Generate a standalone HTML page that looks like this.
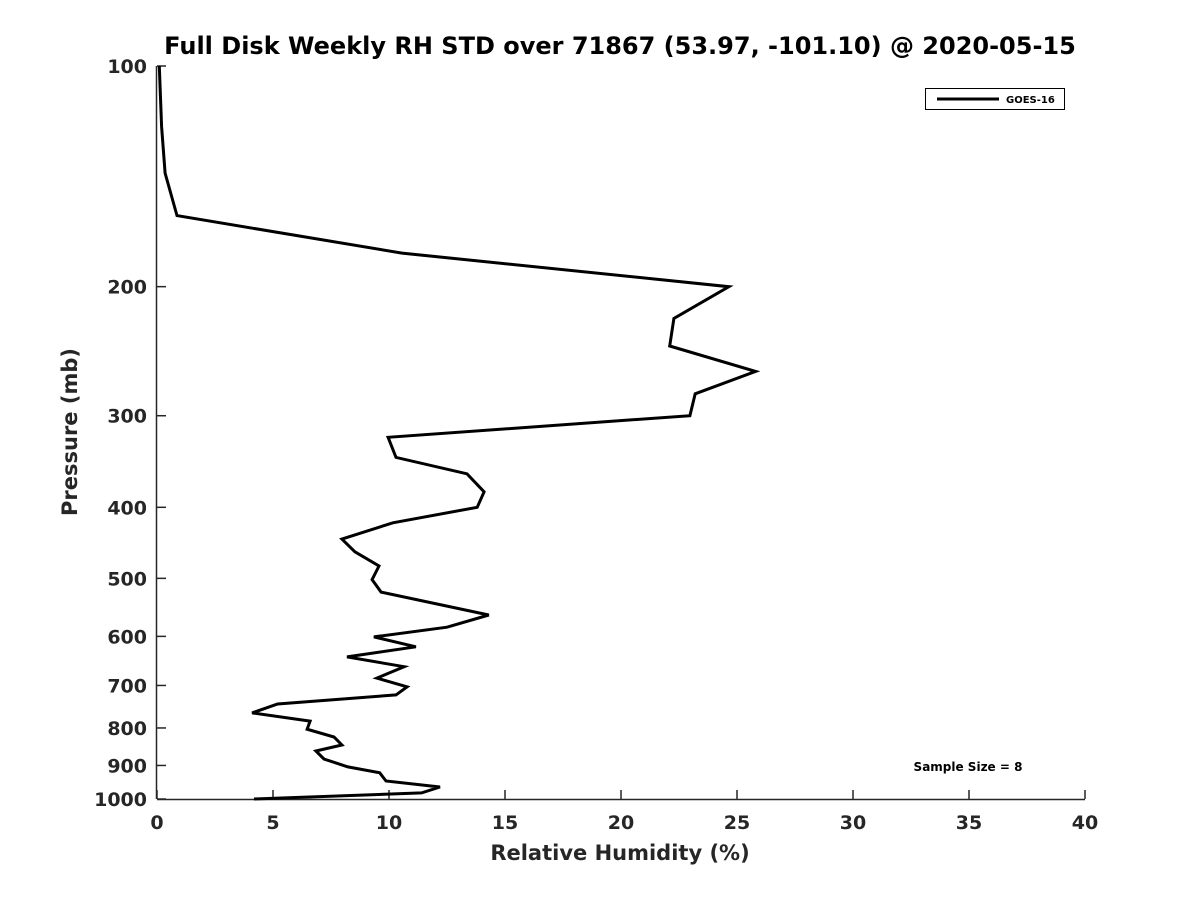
<!DOCTYPE html>
<html><head><meta charset="utf-8"><style>
html,body{margin:0;padding:0;background:#fff;}
svg{display:block;font-family:"DejaVu Sans","Liberation Sans",sans-serif;font-weight:bold;}
</style></head><body>
<svg id="chart" width="1200" height="900" xmlns="http://www.w3.org/2000/svg">
<text x="620" y="54" text-anchor="middle" font-size="24" fill="#000">Full Disk Weekly RH STD over 71867 (53.97, -101.10) @ 2020-05-15</text>
<g id="axes"></g>
<path id="line" fill="none" stroke="#000" stroke-width="3" stroke-linejoin="miter"></path>
<text x="620" y="860" text-anchor="middle" font-size="21" fill="#262626">Relative Humidity (%)</text>
<text transform="translate(77,432) rotate(-90)" text-anchor="middle" font-size="21" fill="#262626">Pressure (mb)</text>
<g>
<rect x="925.5" y="88.5" width="139" height="21" fill="#fff" stroke="#000" stroke-width="1"></rect>
<line x1="937" y1="99" x2="999" y2="99" stroke="#000" stroke-width="3"></line>
<text x="1006" y="103" font-size="10" fill="#000">GOES-16</text>
</g>
<text x="968" y="771" text-anchor="middle" font-size="12" fill="#000">Sample Size = 8</text>
</svg>
<script>
const rhValues=[0.1,0.2,0.35,0.86,10.56,24.65,22.28,22.1,25.8,23.2,22.97,9.96,10.3,13.36,14.1,13.8,10.17,7.97,8.53,9.57,9.27,9.66,14.3,12.5,9.35,11.16,8.19,10.65,9.48,10.78,10.3,5.2,4.1,6.6,6.47,7.63,7.97,6.85,7.2,8.23,9.6,9.87,12.2,11.4,4.18];
const pressures=[100,121,140,160,180,200,221,241,261,280,300,321,342,360,381,400,420,442,460,481,502,522,561,583,601,620,640,660,684,703,721,742,763,783,803,823,844,860,882,904,921,945,963,981,1000];
const xTicks=[0,5,10,15,20,25,30,35,40];
const yTicks=[100,200,300,400,500,600,700,800,900,1000];
const X0=157,X1=1085,Y0=66,Y1=799;
const xs=v=>X0+(v-0)/(40-0)*(X1-X0);
const ys=p=>Y0+(Math.log10(p)-2)/(3-2)*(Y1-Y0);
const NS="http://www.w3.org/2000/svg";
const ax=document.getElementById('axes');
function mk(t,a){const e=document.createElementNS(NS,t);for(const k in a)e.setAttribute(k,a[k]);return e;}
const xl=mk('line',{x1:X0,y1:Y1+0.5,x2:X1,y2:Y1+0.5,stroke:'#262626','stroke-width':1.5});


ax.appendChild(xl);
const yl=mk('line',{x1:X0-0.5,y1:Y0,x2:X0-0.5,y2:Y1,stroke:'#262626','stroke-width':1.5});


ax.appendChild(yl);
xTicks.forEach(v=>{
 const x=xs(v);
 const t=mk('line',{x1:x,y1:Y1,x2:x,y2:Y1-9,stroke:'#262626','stroke-width':1.5});
 
 
 ax.appendChild(t);
 const l=mk('text',{x:x,y:Y1+30,'text-anchor':'middle','font-size':19,fill:'#262626'});
 l.textContent=v;
 
 
 ax.appendChild(l);
});
yTicks.forEach(p=>{
 const y=ys(p);
 const t=mk('line',{x1:X0,y1:y,x2:X0+9,y2:y,stroke:'#262626','stroke-width':1.5});
 
 
 ax.appendChild(t);
 const l=mk('text',{x:X0-10,y:y+7,'text-anchor':'end','font-size':19,fill:'#262626'});
 l.textContent=p;
 
 
 ax.appendChild(l);
});
document.getElementById('line').setAttribute('d',rhValues.map((v,i)=>(i?'L':'M')+xs(v).toFixed(1)+','+ys(pressures[i]).toFixed(1)).join(''));
</script>
</body></html>
